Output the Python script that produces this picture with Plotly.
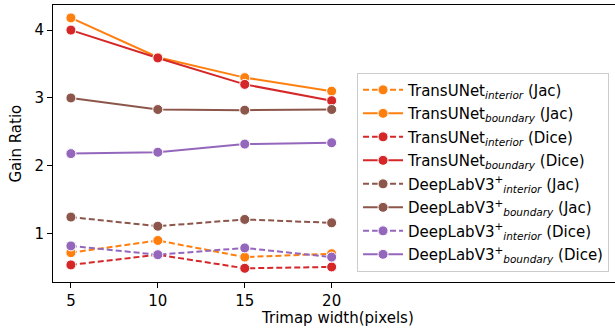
import plotly.graph_objects as go

widths = [5, 10, 15, 20]

transunet_interior_jac = [0.72, 0.90, 0.655, 0.705]
transunet_boundary_jac = [4.18, 3.60, 3.30, 3.10]
transunet_interior_dice = [0.54, 0.69, 0.49, 0.51]
transunet_boundary_dice = [4.00, 3.59, 3.20, 2.96]
deeplab_interior_jac = [1.245, 1.11, 1.21, 1.16]
deeplab_boundary_jac = [3.00, 2.83, 2.82, 2.83]
deeplab_interior_dice = [0.82, 0.69, 0.79, 0.655]
deeplab_boundary_dice = [2.18, 2.20, 2.32, 2.34]

series = [
    ("TransUNet<sub><i>interior</i></sub> (Jac)", transunet_interior_jac, "#ff7f0e", "dash"),
    ("TransUNet<sub><i>boundary</i></sub> (Jac)", transunet_boundary_jac, "#ff7f0e", "solid"),
    ("TransUNet<sub><i>interior</i></sub> (Dice)", transunet_interior_dice, "#d62728", "dash"),
    ("TransUNet<sub><i>boundary</i></sub> (Dice)", transunet_boundary_dice, "#d62728", "solid"),
    ("DeepLabV3<sup>+</sup><sub><i>interior</i></sub> (Jac)", deeplab_interior_jac, "#8c564b", "dash"),
    ("DeepLabV3<sup>+</sup><sub><i>boundary</i></sub> (Jac)", deeplab_boundary_jac, "#8c564b", "solid"),
    ("DeepLabV3<sup>+</sup><sub><i>interior</i></sub> (Dice)", deeplab_interior_dice, "#9467bd", "dash"),
    ("DeepLabV3<sup>+</sup><sub><i>boundary</i></sub> (Dice)", deeplab_boundary_dice, "#9467bd", "solid"),
]

fig = go.Figure()
for i, (name, vals, color, dash) in enumerate(series):
    fig.add_trace(go.Scatter(
        x=widths, y=vals, name=name, mode="lines+markers",
        legendgroup=f"g{i}",
        line=dict(color=color, width=2, dash="6px,3px" if dash == "dash" else "solid"),
        marker=dict(size=10, color=color, line=dict(color="white", width=1)),
    ))

fig.update_layout(
    width=615, height=332,
    margin=dict(l=53, r=0, t=5, b=50),
    plot_bgcolor="white", paper_bgcolor="white",
    font=dict(family="DejaVu Sans", size=15, color="black"),
    showlegend=True,
    legend=dict(
        x=0.541, y=0.756, xanchor="left", yanchor="top",
        bgcolor="white", bordercolor="#cccccc", borderwidth=1,
        font=dict(size=15, color="black"),
        tracegroupgap=1, itemwidth=40,
    ),
    xaxis=dict(
        range=[3.97, 36.3], tickvals=[5, 10, 15, 20],
        showgrid=False, zeroline=False,
        showline=True, linecolor="black", linewidth=1, mirror=True,
        ticks="outside", ticklen=5, tickcolor="black",
        tickfont=dict(size=15, color="black"),
    ),
    yaxis=dict(
        range=[0.288, 4.37], tickvals=[1, 2, 3, 4],
        showgrid=False, zeroline=False,
        showline=True, linecolor="black", linewidth=1,
        ticks="outside", ticklen=5, tickcolor="black",
        tickfont=dict(size=15, color="black"),
    ),
    annotations=[
        dict(
            text="Trimap width(pixels)", xref="paper", yref="paper",
            x=0.507, y=0, yshift=-36, xanchor="center", yanchor="middle",
            showarrow=False, font=dict(size=15, color="black"),
        ),
        dict(
            text="Gain Ratio", xref="paper", yref="paper",
            x=0, xshift=-38, y=0.5, xanchor="center", yanchor="middle",
            textangle=-90, showarrow=False, font=dict(size=15, color="black"),
        ),
    ],
)

fig.write_html("out.html", config={"displayModeBar": False},
               post_script="document.body.style.margin='0px';")
